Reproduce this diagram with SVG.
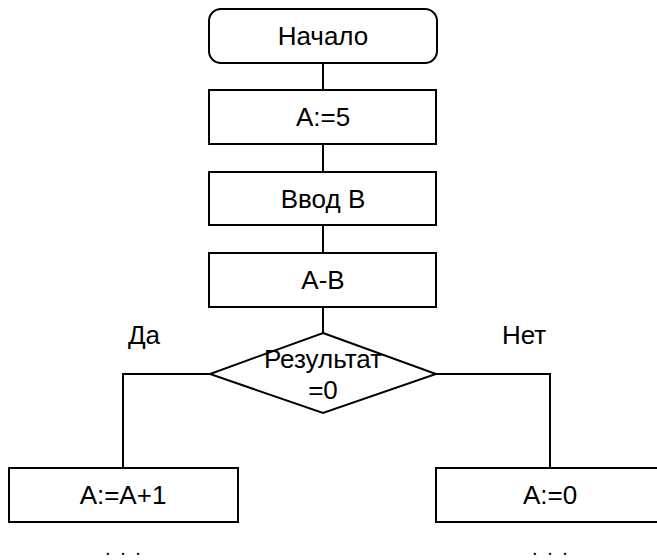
<svg xmlns="http://www.w3.org/2000/svg" width="657" height="560" viewBox="0 0 657 560">
<style>
.s{fill:#fff;stroke:#000;stroke-width:2}
.c{fill:none;stroke:#000;stroke-width:2}
text{font-family:"Liberation Sans",Arial,sans-serif;font-size:26px;fill:#000}
.m{text-anchor:middle}
.d{font-size:20px;letter-spacing:2px}
</style>
<rect width="657" height="560" fill="#fff"/>
<g id="connectors">
<line class="c" x1="323" y1="63" x2="323" y2="90"/>
<line class="c" x1="323" y1="144" x2="323" y2="172"/>
<line class="c" x1="323" y1="225" x2="323" y2="253"/>
<line class="c" x1="323" y1="307" x2="323" y2="333"/>
<polyline class="c" points="210,374 123,374 123,468"/>
<polyline class="c" points="436,374 550,374 550,468"/>
</g>
<g id="start"><rect class="s" x="209" y="9" width="228" height="54" rx="12"/><text class="m" x="323" y="45">Начало</text></g>
<g id="a5"><rect class="s" x="209" y="90" width="227" height="54"/><text class="m" x="323" y="126">A:=5</text></g>
<g id="inputB"><rect class="s" x="209" y="172" width="227" height="53"/><text class="m" x="323" y="208">Ввод B</text></g>
<g id="amb"><rect class="s" x="209" y="253" width="227" height="54"/><text class="m" x="323" y="289">A-B</text></g>
<g id="cond"><polygon class="s" points="323,333 436,374 323,413 210,374"/><text class="m" x="323" y="368">Результат</text><text class="m" x="323" y="399">=0</text></g>
<g id="yes"><text x="128" y="344">Да</text></g>
<g id="no"><text x="502" y="344">Нет</text></g>
<g id="ainc"><rect class="s" x="9" y="468" width="229" height="54"/><text class="m" x="123" y="504">A:=A+1</text><text class="m d" x="124" y="555">. . .</text></g>
<g id="a0"><rect class="s" x="436" y="468" width="229" height="54"/><text class="m" x="550" y="504">A:=0</text><text class="m d" x="551" y="555">. . .</text></g>
</svg>
